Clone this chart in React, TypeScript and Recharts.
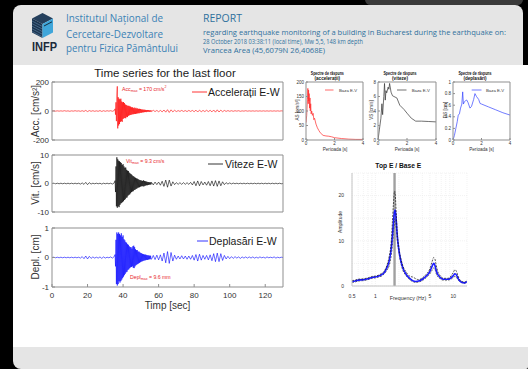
import React from 'react';
import { LineChart, Line, XAxis, YAxis, ReferenceLine, CartesianGrid } from 'recharts';

const FONT = '"Liberation Sans", Arial, Helvetica, sans-serif';
const HFONT = '"Open Sans", "Noto Sans", sans-serif';

// ---------- Time series (sampling grid) ----------
const PRE_START = 0, PRE_STEP = 1;
const MAIN_START = 35.5, MAIN_STEP = 0.25;
const POST_START = 56, POST_STEP = 1;
const timeTicks = [0, 20, 40, 60, 80, 100, 120];

const accPre = [
  0, 1, -1, 1, -1, 1, -1, 2, -1, 1,
  -2, 1, -1, 2, -1, 1, -2, 2, -3, 4,
  -4, 3, -2, 2, -2, 1, -2, 3, -3, 2,
  -2, 2, -1, 2, -2, 3,
];
const accMain = [
  15, -25, 60, -70, 110, 170, -120, 95,
  -100, 85, -90, 80, -75, 85, -70, 65,
  -75, 60, -55, 62, -50, 55, -48, 45,
  -50, 42, -40, 38, -42, 35, -33, 36,
  -30, 32, -28, 30, -26, 25, -24, 26,
  -22, 20, -22, 24, -20, 18, -20, 22,
  -18, 16, -17, 18, -15, 14, -16, 15,
  -13, 14, -12, 11, -12, 10, -9, 10,
  -9, 8, -8, 9, -7, 7, -8, 6,
  -6, 7, -5, 6, -5, 5, -6, 4,
  -4, 5,
];
const accPost = [
  -4, 5, -4, 4, -5, 4, -6, 7, -8, 9,
  -10, 8, -6, 5, -4, 3, -3, 4, -3, 3,
  -4, 4, -3, 4, -5, 6, -7, 6, -5, 4,
  -4, 5, -4, 5, -6, 7, -8, 8, -7, 6,
  -5, 4, -3, 3, -2, 2, -2, 2, -1, 2,
  -2, 1, -1, 2, -1, 1, -1, 1, -1, 1,
  -1, 1, -1, 1, -1, 1, -1, 1, -1, 1,
  -1, 1, -1, 1, 0,
];

const vitPre = [
  0, 0.1, -0.1, 0.1, -0.1, 0.1, -0.1, 0.1, -0.1, 0.1,
  -0.1, 0.1, -0.1, 0.1, -0.1, 0.1, -0.2, 0.2, -0.3, 0.4,
  -0.4, 0.3, -0.2, 0.1, -0.1, 0.1, -0.1, 0.1, -0.2, 0.1,
  -0.1, 0.1, -0.1, 0.1, -0.2, 0.2,
];
const vitMain = [
  1, -3, 6, -8, 9.2, -8.5, 8.5, -8,
  8, -8.3, 7.8, -7.5, 7.5, -7, 7.2, -6.8,
  6.5, -6.5, 6.8, -6.2, 6, -5.8, 5.5, -5.5,
  5.6, -5, 4.8, -4.9, 4.5, -4.3, 4.4, -4,
  3.8, -3.8, 3.5, -3.4, 3.3, -3, 3, -2.8,
  2.6, -2.7, 2.5, -2.3, 2.2, -2.2, 2, -1.9,
  1.8, -1.8, 1.7, -1.5, 1.5, -1.4, 1.3, -1.3,
  1.2, -1.1, 1.1, -1, 1, -0.9, 0.9, -1,
  1.1, -1, 0.9, -0.8, 0.8, -0.7, 0.7, -0.6,
  0.6, -0.6, 0.5, -0.5, 0.5, -0.4, 0.4, -0.4,
  0.4, -0.3,
];
const vitPost = [
  0.4, -0.5, 0.5, -0.4, 0.5, -0.6, 0.8, -1, 1.2, -1.3,
  1.2, -0.9, 0.6, -0.4, 0.3, -0.3, 0.3, -0.3, 0.3, -0.3,
  0.3, -0.3, 0.4, -0.5, 0.7, -0.8, 0.9, -0.8, 0.7, -0.5,
  0.5, -0.6, 0.7, -0.8, 0.9, -0.9, 1, -1, 0.9, -0.8,
  0.6, -0.4, 0.3, -0.2, 0.2, -0.15, 0.15, -0.1, 0.1, -0.1,
  0.1, -0.1, 0.1, -0.1, 0.1, -0.1, 0.1, -0.1, 0.1, -0.1,
  0.1, -0.1, 0.1, -0.1, 0.1, -0.1, 0.1, -0.1, 0.1, -0.1,
  0.1, -0.1, 0.1, -0.1, 0,
];

const deplPre = [
  0, 0.01, -0.01, 0.01, -0.01, 0.01, -0.01, 0.01, -0.01, 0.01,
  -0.01, 0.01, -0.01, 0.01, -0.01, 0.01, -0.02, 0.03, -0.04, 0.05,
  -0.05, 0.04, -0.03, 0.02, -0.02, 0.01, -0.02, 0.02, -0.03, 0.02,
  -0.02, 0.01, -0.01, 0.02, -0.02, 0.03,
];
const deplMain = [
  0.1, -0.3, 0.6, -0.9, 0.85, -0.95, 0.8, -0.9,
  0.85, -0.8, 0.8, -0.85, 0.75, -0.8, 0.82, -0.75,
  0.7, -0.7, 0.75, -0.65, 0.62, -0.6, 0.58, -0.55,
  0.52, -0.5, 0.5, -0.48, 0.45, -0.42, 0.43, -0.4,
  0.38, -0.36, 0.35, -0.33, 0.35, -0.32, 0.3, -0.3,
  0.38, -0.35, 0.4, -0.36, 0.35, -0.3, 0.28, -0.26,
  0.25, -0.24, 0.25, -0.22, 0.2, -0.2, 0.2, -0.18,
  0.17, -0.16, 0.15, -0.14, 0.14, -0.13, 0.12, -0.12,
  0.11, -0.1, 0.1, -0.1, 0.1, -0.09, 0.09, -0.08,
  0.08, -0.08, 0.07, -0.07, 0.07, -0.06, 0.06, -0.06,
  0.06, -0.05,
];
const deplPost = [
  -0.06, 0.07, -0.07, 0.08, -0.08, 0.09, -0.12, 0.15, -0.18, 0.2,
  -0.2, 0.17, -0.12, 0.08, -0.06, 0.05, -0.05, 0.06, -0.05, 0.05,
  -0.06, 0.05, -0.06, 0.07, -0.09, 0.1, -0.12, 0.11, -0.09, 0.07,
  -0.06, 0.07, -0.08, 0.09, -0.11, 0.13, -0.14, 0.15, -0.14, 0.13,
  -0.1, 0.07, -0.05, 0.04, -0.04, 0.03, -0.03, 0.03, -0.02, 0.02,
  -0.03, 0.02, -0.02, 0.02, -0.02, 0.02, -0.02, 0.02, -0.02, 0.01,
  -0.02, 0.02, -0.01, 0.01, -0.02, 0.02, -0.01, 0.01, -0.01, 0.02,
  -0.02, 0.01, -0.01, 0.01, 0,
];

// ---------- Response spectra ----------
const saPeriods = [0, 0.05, 0.1, 0.13, 0.16, 0.18, 0.2, 0.22, 0.25, 0.28, 0.3, 0.33, 0.36, 0.4, 0.45, 0.5, 0.55, 0.6, 0.7, 0.8, 0.9, 1.0, 1.2, 1.4, 1.6, 1.8, 2.0, 2.5, 3.0, 3.5, 4.0];
const saValues = [60, 85, 140, 178, 125, 172, 135, 160, 110, 145, 100, 125, 90, 100, 85, 92, 70, 75, 55, 42, 33, 25, 16, 14, 13, 11, 8, 5, 3, 2, 2];
const svPeriods = [0, 0.1, 0.2, 0.27, 0.32, 0.4, 0.45, 0.5, 0.55, 0.6, 0.7, 0.75, 0.8, 0.9, 1.0, 1.1, 1.3, 1.5, 1.8, 2.0, 2.3, 2.6, 3.0, 3.5, 4.0];
const svValues = [0, 1.5, 3, 5, 3.5, 6, 7.8, 5.5, 6.8, 6.5, 7.3, 7.0, 7.8, 6.6, 6.1, 6.0, 5.8, 4.8, 4.2, 3.7, 3.0, 2.6, 2.6, 2.55, 2.5];
const sdPeriods = [0, 0.1, 0.2, 0.3, 0.37, 0.45, 0.53, 0.62, 0.68, 0.73, 0.8, 0.9, 0.96, 1.05, 1.19, 1.3, 1.45, 1.54, 1.65, 1.8, 1.9, 2.0, 2.5, 3.0, 3.5, 4.0];
const sdValues = [0, 0.08, 0.2, 0.32, 0.43, 0.45, 0.55, 0.62, 0.83, 0.62, 0.66, 0.68, 0.69, 0.65, 0.55, 0.58, 0.7, 0.8, 0.75, 0.7, 0.63, 0.62, 0.57, 0.52, 0.47, 0.43];
const periodTicks = [0, 2, 4];
const saTicks = [0, 50, 100, 150, 200];
const svTicks = [0, 2, 4, 6, 8];
const sdTicks = [0, 0.2, 0.4, 0.6, 0.8, 1];

// ---------- Transfer function Top E / Base E ----------
const tfFreq = [0.5, 0.55, 0.6, 0.7, 0.8, 0.9, 1.0, 1.1, 1.2, 1.3, 1.4, 1.5, 1.6, 1.65, 1.7, 1.76, 1.8, 1.85, 1.9, 2.0, 2.2, 2.5, 2.8, 3.0, 3.3, 3.6, 4.0, 4.5, 5.0, 5.3, 5.6, 5.8, 6.0, 6.3, 6.7, 7.0, 7.5, 8.0, 8.5, 9.0, 9.5, 10.0, 10.5, 11.0, 11.5, 12.0, 13.0, 14.0, 15.0];
const tfMean = [1.0, 1.1, 1.3, 1.4, 1.6, 1.9, 2.0, 2.2, 2.5, 3.0, 4.0, 5.5, 8.5, 11, 14, 16.5, 16.8, 14.5, 11.5, 8, 4.5, 2.5, 1.6, 1.2, 1.0, 1.1, 1.5, 2.2, 3.2, 4.2, 5.0, 4.6, 3.6, 2.6, 2.0, 1.7, 1.5, 1.5, 1.5, 1.6, 1.9, 2.3, 2.7, 2.4, 1.7, 1.2, 0.8, 0.7, 1.0];
const tfUpper = [1.2, 1.3, 1.5, 1.6, 1.8, 2.1, 2.2, 2.4, 2.8, 3.3, 4.5, 6.5, 10, 14, 18, 21, 20, 16, 12, 8.5, 5, 3, 2.1, 2.0, 1.6, 1.4, 1.8, 2.6, 3.8, 5.2, 6.3, 6.0, 4.8, 3.3, 2.4, 2.0, 1.7, 1.7, 1.7, 1.9, 2.4, 3.0, 3.6, 3.2, 2.2, 1.5, 1.0, 0.9, 1.2];
const tfLower = [0.8, 0.9, 1.1, 1.2, 1.4, 1.7, 1.8, 2.0, 2.2, 2.7, 3.5, 4.5, 7, 9, 12, 14.5, 15, 13, 10.5, 7.5, 4.0, 2.2, 1.3, 1.0, 0.8, 0.9, 1.2, 1.9, 2.7, 3.4, 4.0, 3.8, 2.9, 2.1, 1.7, 1.4, 1.3, 1.3, 1.3, 1.4, 1.6, 1.9, 2.1, 1.9, 1.4, 1.0, 0.7, 0.6, 0.8];
const tfFundamental = 1.76;
const tfXTicks = [0.5, 1, 5, 10];
const tfYTicks = [0, 10, 20];
const tfGridX = [0.5, 0.6, 0.7, 0.8, 0.9, 1, 2, 3, 4, 5, 6, 7, 8, 9, 10, 15];
const tfGridY = [0, 5, 10, 15, 20, 25];

// ---------- data builders ----------
function buildSeries(pre: number[], main: number[], post: number[]) {
  const out: { t: number; v: number }[] = [];
  pre.forEach((v, i) => out.push({ t: PRE_START + i * PRE_STEP, v }));
  main.forEach((v, i) => out.push({ t: MAIN_START + i * MAIN_STEP, v }));
  post.forEach((v, i) => out.push({ t: POST_START + i * POST_STEP, v }));
  return out;
}
const zipSpec = (p: number[], v: number[]) => p.map((x, i) => ({ p: x, v: v[i] }));

const accData = buildSeries(accPre, accMain, accPost);
const vitData = buildSeries(vitPre, vitMain, vitPost);
const deplData = buildSeries(deplPre, deplMain, deplPost);
const saData = zipSpec(saPeriods, saValues);
const svData = zipSpec(svPeriods, svValues);
const sdData = zipSpec(sdPeriods, sdValues);
const tfData = tfFreq.map((f, i) => ({ f, mean: tfMean[i], hi: tfUpper[i], lo: tfLower[i] }));

const AX = '#8f8f8f';

function TimePanel(props: {
  data: { t: number; v: number }[]; color: string; plotTop: number; plotBottom: number;
  domain: [number, number]; ticks: number[]; showX: boolean;
}) {
  const { data, color, plotTop, plotBottom, domain, ticks, showX } = props;
  const mTop = 6, mBot = 6, topH = 1;
  const bottomH = showX ? 18 : 1;
  const h = mTop + topH + (plotBottom - plotTop) + bottomH + mBot;
  const tickStyle = { fill: '#333', fontSize: 8, fontFamily: FONT };
  return (
    <div style={{ position: 'absolute', left: 0, top: plotTop - mTop - topH }}>
      <LineChart width={290} height={h} data={data} margin={{ top: mTop, right: 6, bottom: mBot, left: 0 }}>
        <XAxis xAxisId="b" dataKey="t" type="number" domain={[0, 130]} ticks={timeTicks} allowDataOverflow
          height={bottomH} stroke={AX} tickSize={-3} tickMargin={8} interval={0}
          tick={showX ? tickStyle : false} />
        <XAxis xAxisId="t" orientation="top" dataKey="t" type="number" domain={[0, 130]} ticks={timeTicks}
          allowDataOverflow height={1} stroke={AX} tickSize={-3} tick={false} interval={0} />
        <YAxis yAxisId="l" type="number" domain={domain} ticks={ticks} allowDataOverflow width={52}
          stroke={AX} tickSize={-3} tickMargin={6} interval={0} tick={tickStyle} />
        <YAxis yAxisId="r" orientation="right" type="number" domain={domain} ticks={ticks} allowDataOverflow
          width={1} stroke={AX} tickSize={-3} tick={false} interval={0} />
        <Line xAxisId="b" yAxisId="l" type="linear" dataKey="v" stroke={color} strokeWidth={0.6}
          dot={false} isAnimationActive={false} />
      </LineChart>
    </div>
  );
}

function SpecPanel(props: {
  data: { p: number; v: number }[]; color: string; plotLeft: number; plotW: number;
  domain: [number, number]; ticks: number[];
}) {
  const { data, color, plotLeft, plotW, domain, ticks } = props;
  const yW = 16, mTop = 4, topH = 1, plotH = 58, botH = 10;
  const tickStyle = { fill: '#333', fontSize: 4.5, fontFamily: FONT };
  return (
    <div style={{ position: 'absolute', left: plotLeft - yW, top: 82 - mTop - topH }}>
      <LineChart width={yW + plotW + 1 + 2} height={mTop + topH + plotH + botH + 2} data={data}
        margin={{ top: mTop, right: 2, bottom: 2, left: 0 }}>
        <XAxis xAxisId="b" dataKey="p" type="number" domain={[0, 4]} ticks={periodTicks} allowDataOverflow
          height={botH} stroke={AX} tickSize={-2} tickMargin={4} interval={0} tick={tickStyle} />
        <XAxis xAxisId="t" orientation="top" dataKey="p" type="number" domain={[0, 4]} ticks={periodTicks}
          allowDataOverflow height={1} stroke={AX} tickSize={-2} tick={false} interval={0} />
        <YAxis yAxisId="l" type="number" domain={domain} ticks={ticks} allowDataOverflow width={yW}
          stroke={AX} tickSize={-2} tickMargin={4} interval={0} tick={tickStyle} />
        <YAxis yAxisId="r" orientation="right" type="number" domain={domain} ticks={ticks} allowDataOverflow
          width={1} stroke={AX} tickSize={-2} tick={false} interval={0} />
        <Line xAxisId="b" yAxisId="l" type="linear" dataKey="v" stroke={color} strokeWidth={0.7}
          dot={false} isAnimationActive={false} />
      </LineChart>
    </div>
  );
}

function TransferPanel() {
  const tickStyle = { fill: '#333', fontSize: 5, fontFamily: FONT };
  return (
    <div style={{ position: 'absolute', left: 326, top: 168 }}>
      <LineChart width={146} height={133} data={tfData} margin={{ top: 5, right: 5, bottom: 3, left: 0 }}>
        <CartesianGrid verticalValues={tfGridX} horizontalValues={tfGridY} stroke="#e4e4e4"
          strokeDasharray="1 1" strokeWidth={0.5} />
        <XAxis dataKey="f" type="number" scale="log" domain={[0.5, 15]} ticks={tfXTicks} allowDataOverflow
          height={12} stroke="#c4c4c4" tickLine={false} tickMargin={2} interval={0} tick={tickStyle} />
        <YAxis type="number" domain={[0, 25]} ticks={tfYTicks} allowDataOverflow width={26}
          stroke="#c4c4c4" tickLine={false} tickMargin={2} interval={0} tick={tickStyle} />
        <ReferenceLine x={tfFundamental} stroke="#a0a0a0" strokeWidth={2.4} />
        <Line type="monotone" dataKey="lo" stroke="#111" strokeWidth={0.7} strokeDasharray="2 1.2"
          dot={false} isAnimationActive={false} />
        <Line type="monotone" dataKey="mean" stroke="#1c1cff" strokeWidth={1.6}
          dot={false} isAnimationActive={false} />
        <Line type="monotone" dataKey="hi" stroke="#111" strokeWidth={0.7} strokeDasharray="2 1.2"
          dot={false} isAnimationActive={false} />
      </LineChart>
    </div>
  );
}

function T(props: {
  x: number; y: number; size: number; children: React.ReactNode; anchor?: string; fill?: string;
  weight?: string | number; len?: number; rot?: boolean; family?: string;
}) {
  const { x, y, size, children, anchor = 'start', fill = '#222', weight = 'normal', len, rot, family = FONT } = props;
  return (
    <text x={x} y={y} fontSize={size} textAnchor={anchor as any} fill={fill} fontWeight={weight as any}
      fontFamily={family} dominantBaseline="central" textLength={len}
      lengthAdjust={len ? 'spacingAndGlyphs' : undefined}
      transform={rot ? `rotate(-90 ${x} ${y})` : undefined}>{children}</text>
  );
}

function Overlay() {
  const inst = '#3b82b5';
  const rep = '#2f719d';
  return (
    <svg width={528} height={369} style={{ position: 'absolute', left: 0, top: 0, pointerEvents: 'none' }}>
      {/* logo */}
      <polygon points="42.5,13 53,18.5 42.5,24 32,18.5" fill="#243f5c" />
      <polygon points="32,18.5 42.5,24 42.5,38 32,32.5" fill="#1c3550" />
      {[0, 1, 2, 3, 4].map((i) => (
        <line key={i} x1={32} y1={21 + i * 2.6} x2={42.5} y2={26.5 + i * 2.6} stroke="#5f87a8" strokeWidth={0.6} />
      ))}
      <polygon points="42.5,24 53,18.5 53,32.5 42.5,38" fill="#3fa6da" />
      <line x1={44} y1={26} x2={52} y2={21.8} stroke="#10202e" strokeWidth={0.9} />
      <T x={32} y={47} size={12} weight="bold" fill="#1b2a3a" len={25}>INFP</T>

      <T x={66} y={18} size={10.5} fill={inst} family={HFONT} len={97}>Institutul Național de</T>
      <T x={66} y={33.5} size={10.5} fill={inst} family={HFONT} len={97}>Cercetare-Dezvoltare</T>
      <T x={66} y={48.3} size={10.5} fill={inst} family={HFONT} len={112}>pentru Fizica Pământului</T>

      <T x={203} y={18} size={10} fill={rep} family={HFONT} len={39}>REPORT</T>
      <T x={203} y={32} size={6.8} fill={rep} family={HFONT} len={303}>regarding earthquake monitoring of a building in Bucharest during the earthquake on:</T>
      <T x={203} y={41.2} size={6.8} fill={rep} family={HFONT} len={160}>28 October 2018 03:38:11 (local time), Mw 5,5, 148 km depth</T>
      <T x={203} y={50.3} size={6.8} fill={rep} family={HFONT} len={122}>Vrancea Area (45,6079N 26,4068E)</T>

      {/* time series texts */}
      <T x={165} y={73} size={11.5} anchor="middle" fill="#1a1a1a">Time series for the last floor</T>
      <T x={35} y={111} size={10} anchor="middle" fill="#333" rot>Acc. [cm/s²]</T>
      <T x={35} y={183} size={10} anchor="middle" fill="#333" rot>Vit. [cm/s]</T>
      <T x={35} y={257} size={10} anchor="middle" fill="#333" rot>Depl. [cm]</T>
      <T x={167.5} y={305} size={10} anchor="middle" fill="#333">Timp [sec]</T>

      <line x1={192} y1={92} x2={207} y2={92} stroke="#ff0000" strokeWidth={0.8} />
      <T x={208} y={92} size={10.5} fill="#1a1a1a">Accelerații E-W</T>
      <line x1={208} y1={164} x2={223} y2={164} stroke="#000" strokeWidth={0.8} />
      <T x={225} y={164} size={10.5} fill="#1a1a1a">Viteze E-W</T>
      <line x1={197} y1={241} x2={208} y2={241} stroke="#0000ff" strokeWidth={0.8} />
      <T x={209} y={241} size={10.5} fill="#1a1a1a">Deplasări E-W</T>

      <text x={122} y={89} fontSize={5.2} fill="#e8262a" fontFamily={FONT} dominantBaseline="central">
        Acc<tspan fontSize={3.6} dy={1.5}>max</tspan><tspan dy={-1.5}> = 170 cm/s</tspan><tspan fontSize={3.6} dy={-2}>2</tspan>
      </text>
      <text x={126} y={161} fontSize={5.2} fill="#e8262a" fontFamily={FONT} dominantBaseline="central">
        Vit<tspan fontSize={3.6} dy={1.5}>max</tspan><tspan dy={-1.5}> = 9.3 cm/s</tspan>
      </text>
      <text x={130} y={277} fontSize={5.2} fill="#e8262a" fontFamily={FONT} dominantBaseline="central">
        Depl<tspan fontSize={3.6} dy={1.5}>max</tspan><tspan dy={-1.5}> = 9.6 mm</tspan>
      </text>

      {/* spectra texts */}
      <T x={327.3} y={73.3} size={4.6} anchor="middle" weight="bold" fill="#111" len={33}>Spectre de răspuns</T>
      <T x={327.3} y={78.5} size={4.6} anchor="middle" weight="bold" fill="#111">(accelerații)</T>
      <T x={400} y={73.3} size={4.6} anchor="middle" weight="bold" fill="#111" len={33}>Spectre de răspuns</T>
      <T x={400} y={78.5} size={4.6} anchor="middle" weight="bold" fill="#111">(viteze)</T>
      <T x={475} y={73.3} size={4.6} anchor="middle" weight="bold" fill="#111" len={33}>Spectre de răspuns</T>
      <T x={475} y={78.5} size={4.6} anchor="middle" weight="bold" fill="#111">(deplasări)</T>

      <T x={297} y={110} size={4.6} anchor="middle" fill="#333" rot>AS [cm/s²]</T>
      <T x={371.5} y={110} size={4.6} anchor="middle" fill="#333" rot>VS [cm/s]</T>
      <T x={445} y={110} size={4.6} anchor="middle" fill="#333" rot>DS [cm]</T>
      <T x={335} y={149.5} size={4.6} anchor="middle" fill="#333">Perioada [s]</T>
      <T x={407} y={149.5} size={4.6} anchor="middle" fill="#333">Perioada [s]</T>
      <T x={481.5} y={149.5} size={4.6} anchor="middle" fill="#333">Perioada [s]</T>

      <line x1={325} y1={90} x2={333.5} y2={90} stroke="#ff2a2a" strokeWidth={0.7} />
      <T x={339} y={90} size={4.3} fill="#333">Baza E-V</T>
      <line x1={397} y1={90} x2={406.5} y2={90} stroke="#333" strokeWidth={0.7} />
      <T x={411.7} y={90} size={4.3} fill="#333">Baza E-V</T>
      <line x1={471.7} y1={90} x2={481.5} y2={90} stroke="#3344ff" strokeWidth={0.7} />
      <T x={486} y={90} size={4.3} fill="#333">Baza E-V</T>

      {/* transfer function texts */}
      <T x={398.3} y={165} size={6.7} anchor="middle" weight="bold" fill="#111">Top E / Base E</T>
      <T x={340} y={222} size={4.9} anchor="middle" fill="#333" rot>Amplitude</T>
      <T x={408} y={298.3} size={5.3} anchor="middle" fill="#333">Frequency (Hz)</T>
    </svg>
  );
}

export default function App() {
  return (
    <div style={{ position: 'fixed', left: 0, top: 0, width: 528, height: 369, background: '#000', overflow: 'hidden', fontFamily: FONT }}>
      <div style={{ position: 'absolute', left: 365, top: -6, width: 158, height: 11, background: '#3a3a3a', borderRadius: 6 }} />
      <div style={{ position: 'absolute', left: 13, top: 5, width: 510, height: 60, background: '#e5e5e5', borderRadius: '8px 8px 0 0' }} />
      <div style={{ position: 'absolute', left: 13, top: 65, width: 515, height: 282, background: '#ffffff' }} />
      <div style={{ position: 'absolute', left: 13, top: 347, width: 515, height: 22, background: '#e5e5e5', borderRadius: '0 0 2px 8px' }} />

      <TimePanel data={accData} color="#ff0000" plotTop={82} plotBottom={140} domain={[-200, 200]} ticks={[-200, 0, 200]} showX={false} />
      <TimePanel data={vitData} color="#000000" plotTop={155} plotBottom={212} domain={[-10, 10]} ticks={[-10, 0, 10]} showX={false} />
      <TimePanel data={deplData} color="#0000ff" plotTop={228} plotBottom={287} domain={[-1, 1]} ticks={[-1, 0, 1]} showX={true} />

      <SpecPanel data={saData} color="#ff2a2a" plotLeft={306} plotW={57} domain={[0, 200]} ticks={saTicks} />
      <SpecPanel data={svData} color="#333333" plotLeft={378} plotW={58} domain={[0, 8]} ticks={svTicks} />
      <SpecPanel data={sdData} color="#3344ff" plotLeft={453} plotW={57} domain={[0, 1]} ticks={sdTicks} />

      <TransferPanel />
      <Overlay />
    </div>
  );
}
